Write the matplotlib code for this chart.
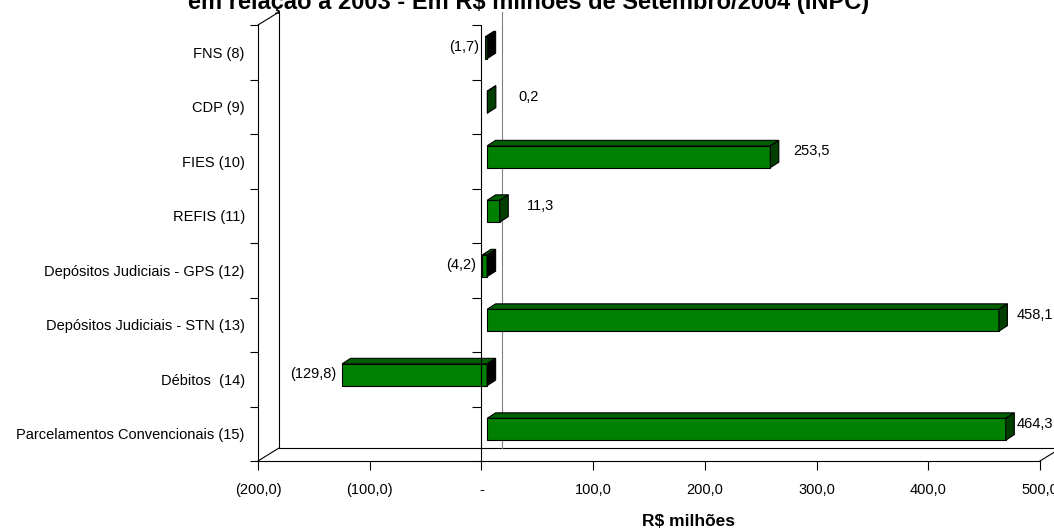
import numpy as np
import matplotlib
matplotlib.use("Agg")
import matplotlib.pyplot as plt
from matplotlib.patches import Polygon
from matplotlib.markers import TICKLEFT
from matplotlib.ticker import FixedLocator, FixedFormatter, NullFormatter, FuncFormatter

# ---- data -------------------------------------------------------------
categories = ["FNS (8)", "CDP (9)", "FIES (10)", "REFIS (11)",
              "Depósitos Judiciais - GPS (12)", "Depósitos Judiciais - STN (13)",
              "Débitos  (14)", "Parcelamentos Convencionais (15)"]
values = [-1.7, 0.2, 253.5, 11.3, -4.2, 458.1, -129.8, 464.3]
value_ticks = [-200, -100, 0, 100, 200, 300, 400, 500]
title = "em relação a 2003 - Em R$ milhões de Setembro/2004 (INPC)"
xlabel = "R$ milhões"

plt.rcParams['font.family'] = ['Liberation Sans', 'DejaVu Sans']


def fmt_br(v, decimals=1):
    """Brazilian number style: comma decimals, negatives in parentheses, zero as '-'."""
    if abs(v) < 1e-9:
        return "-"
    s = f"{abs(v):,.{decimals}f}".replace(",", "X").replace(".", ",").replace("X", ".")
    return f"({s})" if v < 0 else s


W, H = 1054, 529
fig = plt.figure(figsize=(W / 100, H / 100), dpi=100)
fig.patch.set_facecolor("white")

# front plane of the pseudo-3D box
ax = fig.add_axes([258 / W, (H - 461) / H, (1040 - 258) / W, (461 - 25) / H])
ax.set_xlim(-200, 500)
ax.set_ylim(7.5, -0.5)
ax.patch.set_visible(False)
for side in ("top", "right"):
    ax.spines[side].set_visible(False)
for side in ("left", "bottom"):
    ax.spines[side].set_linewidth(0.8)
    ax.spines[side].set_zorder(6)


def px(dx, dy):
    """Screen-pixel displacement expressed in data units."""
    o = ax.transData.transform((0, 0))
    return ax.transData.inverted().transform(o + np.array([dx, dy]))


LW = 0.8
D = px(21, 13)          # full depth of the box
xmin, xmax = ax.get_xlim()
ytop, ybot = -0.5, 7.5

# side wall, floor and back-wall zero line
box_lines = [
    ([xmin + D[0], xmin + D[0]], [ytop + D[1], ybot + D[1]]),
    ([xmin, xmin + D[0]], [ytop, ytop + D[1]]),
    ([xmin, xmin + D[0]], [ybot, ybot + D[1]]),
    ([xmin + D[0], xmax + D[0]], [ybot + D[1], ybot + D[1]]),
    ([xmax, xmax + D[0]], [ybot, ybot + D[1]]),
]
for xs, ys in box_lines:
    ax.plot(xs, ys, color="black", lw=LW, clip_on=False, zorder=1,
            solid_capstyle="projecting")
ax.plot([D[0], D[0]], [ytop + D[1], ybot + D[1]], color="#808080", lw=LW,
        clip_on=False, zorder=1)

# category axis: ticks at the boundaries, labels centred in each band
bounds = np.arange(-0.5, len(categories), 1.0)
ax.yaxis.set_major_locator(FixedLocator(bounds))
ax.yaxis.set_major_formatter(NullFormatter())
ax.yaxis.set_minor_locator(FixedLocator(np.arange(len(categories))))
ax.yaxis.set_minor_formatter(FixedFormatter(categories))
ax.tick_params(axis="y", which="major", direction="out", length=5.8, width=LW)
ax.tick_params(axis="y", which="minor", length=0, pad=9.5, labelsize=10.5)

# value axis
ax.xaxis.set_major_locator(FixedLocator(value_ticks))
ax.xaxis.set_major_formatter(FuncFormatter(lambda v, p: fmt_br(v)))
ax.tick_params(axis="x", direction="out", length=6.5, width=LW, pad=9, labelsize=10.5)

# zero line at the front, with its own category ticks
ax.axvline(0, color="black", lw=LW, zorder=7)
ax.plot(np.zeros_like(bounds), bounds, ls="none", marker=TICKLEFT, ms=6.5,
        mew=LW, color="black", clip_on=False, zorder=7)

# ---- 3D bars ------------------------------------------------------------
bar_h = 0.40
front = px(5.7, 4.5)     # bar front face depth
depth = px(8.5, 5.5)     # bar thickness in depth
c_front, c_top, c_side, c_base = "#008000", "#005f00", "#003f00", "#000000"

labels = []
for i, v in enumerate(values):
    y0 = i - bar_h / 2 + front[1]
    y1 = i + bar_h / 2 + front[1]
    x0 = 0 + front[0]
    x1 = v + front[0]
    bx, by = depth
    face_front = [(x0, y0), (x1, y0), (x1, y1), (x0, y1)]
    face_top = [(x0, y0), (x1, y0), (x1 + bx, y0 + by), (x0 + bx, y0 + by)]
    xe = max(x0, x1)
    face_side = [(xe, y0), (xe + bx, y0 + by), (xe + bx, y1 + by), (xe, y1)]
    for pts, col in ((face_front, c_front), (face_top, c_top),
                     (face_side, c_side if v > 0 else c_base)):
        ax.add_patch(Polygon(pts, closed=True, facecolor=col, edgecolor="black",
                             lw=LW, joinstyle="miter", clip_on=False, zorder=3))

    if v >= 0:
        t = ax.annotate(fmt_br(v), xy=(v, i), xytext=(5.7 + 41, 10),
                        textcoords="offset pixels", ha="center", va="center",
                        fontsize=10.5, annotation_clip=False, zorder=8)
    else:
        t = ax.annotate(fmt_br(v), xy=(v, i), xytext=(5.7 - 6, 5),
                        textcoords="offset pixels", ha="right", va="center",
                        fontsize=10.5, annotation_clip=False, zorder=8)
    labels.append(t)

# keep value labels inside the figure
fig.canvas.draw()
renderer = fig.canvas.get_renderer()
for t in labels:
    bb = t.get_window_extent(renderer)
    over = bb.x1 - (W - 1)
    if over > 0:
        ox, oy = t.xyann
        t.xyann = (ox - over, oy)

# ---- titles ---------------------------------------------------------------
fig.text(529 / W, 1 - 9 / H, title, ha="center", va="baseline",
         fontsize=17, fontweight="bold")
fig.text(688 / W, 1 - 521 / H, xlabel, ha="center", va="center",
         fontsize=12.5, fontweight="bold")

fig.savefig("out.png", dpi=100, facecolor="white")
